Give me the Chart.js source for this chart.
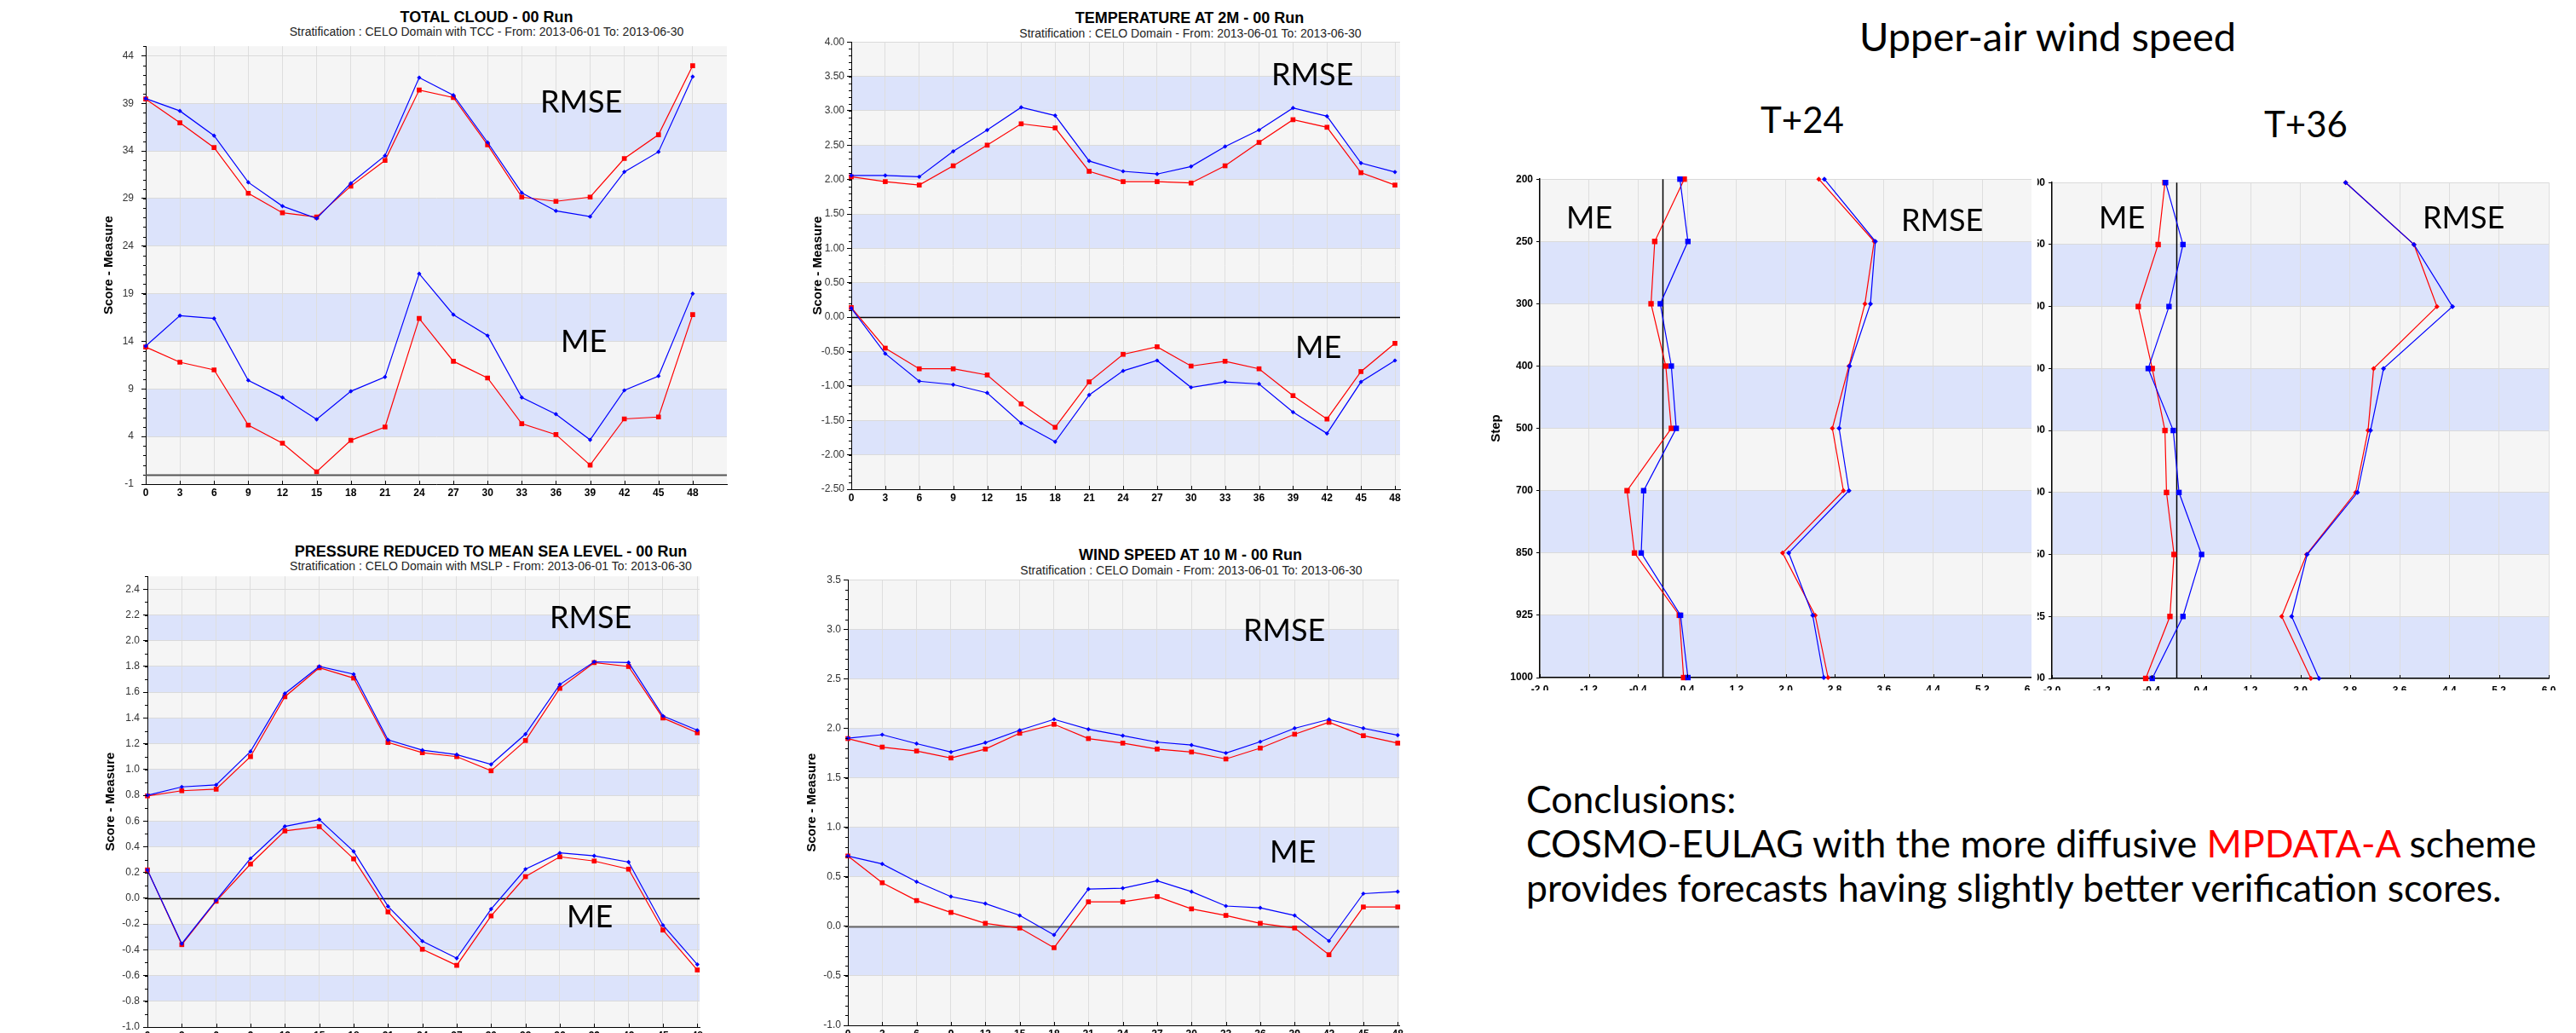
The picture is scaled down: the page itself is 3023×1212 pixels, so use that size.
<!DOCTYPE html>
<html>
<head>
<meta charset="utf-8">
<title>COSMO-EULAG verification scores</title>
<script src="https://cdn.jsdelivr.net/npm/chart.js@4.4.1/dist/chart.umd.min.js"></script>
<style>
    html, body { margin: 0; padding: 0; background: #fff; }
    body { width: 3023px; height: 1212px; position: relative; overflow: hidden; font-family: "Liberation Sans", Arial, sans-serif; }
    canvas { position: absolute; }
    .clip { position: absolute; overflow: hidden; }
    .ttl { position: absolute; transform: translateX(-50%); white-space: nowrap; font-weight: bold; font-size: 18px; line-height: 1; color: #000; }
    .sub { position: absolute; transform: translateX(-50%); white-space: nowrap; font-size: 14px; line-height: 1; color: #222; }
    .lbl { position: absolute; font-family: Lato, "Open Sans", sans-serif; font-size: 36px; line-height: 1; white-space: nowrap; color: #000; }
    .big { position: absolute; transform: translateX(-50%); font-family: Lato, "Open Sans", sans-serif; font-size: 42px; line-height: 1; white-space: nowrap; color: #000; }
    .concl { position: absolute; left: 1791px; top: 911px; font-family: Lato, "Open Sans", sans-serif; font-size: 44.5px; line-height: 52px; white-space: nowrap; color: #000; }
</style>
</head>
<body>

<div class="ttl" style="left:571px;top:11px">TOTAL CLOUD - 00 Run</div>
<div class="sub" style="left:571px;top:30px">Stratification : CELO Domain with TCC - From: 2013-06-01 To: 2013-06-30</div>
<div class="ttl" style="left:1396px;top:12px">TEMPERATURE AT 2M - 00 Run</div>
<div class="sub" style="left:1397px;top:32px">Stratification : CELO Domain - From: 2013-06-01 To: 2013-06-30</div>
<div class="ttl" style="left:576px;top:638px">PRESSURE REDUCED TO MEAN SEA LEVEL - 00 Run</div>
<div class="sub" style="left:576px;top:657px">Stratification : CELO Domain with MSLP - From: 2013-06-01 To: 2013-06-30</div>
<div class="ttl" style="left:1397px;top:642px">WIND SPEED AT 10 M - 00 Run</div>
<div class="sub" style="left:1398px;top:662px">Stratification : CELO Domain - From: 2013-06-01 To: 2013-06-30</div>

<canvas id="cloudChart"></canvas>
<canvas id="t2mChart"></canvas>
<canvas id="mslpChart"></canvas>
<canvas id="w10Chart"></canvas>
<div class="clip" style="left:2391px;top:208px;width:632px;height:602px"><canvas id="t36Chart"></canvas></div>
<div class="clip" style="left:1730px;top:205px;width:654px;height:605px"><canvas id="t24Chart"></canvas></div>

<div class="lbl" style="left:634px;top:100px">RMSE</div>
<div class="lbl" style="left:658px;top:381px">ME</div>
<div class="lbl" style="left:1492px;top:68px">RMSE</div>
<div class="lbl" style="left:1520px;top:388px">ME</div>
<div class="lbl" style="left:645px;top:705px">RMSE</div>
<div class="lbl" style="left:665px;top:1056px">ME</div>
<div class="lbl" style="left:1459px;top:720px">RMSE</div>
<div class="lbl" style="left:1490px;top:980px">ME</div>
<div class="lbl" style="left:1838px;top:236px">ME</div>
<div class="lbl" style="left:2231px;top:239px">RMSE</div>
<div class="lbl" style="left:2463px;top:236px">ME</div>
<div class="lbl" style="left:2843px;top:236px">RMSE</div>

<div class="big" style="left:2403px;top:19px;font-size:47px">Upper-air wind speed</div>
<div class="big" style="left:2115px;top:119px">T+24</div>
<div class="big" style="left:2706px;top:124px">T+36</div>

<div class="concl">Conclusions:<br>COSMO-EULAG with the more diffusive <span style="color:#ff0000">MPDATA-A</span> scheme<br>provides forecasts having slightly better verification scores.</div>

<script>
// Forecast lead times (hours) on the x axis of the surface charts
const leadHours = [0, 3, 6, 9, 12, 15, 18, 21, 24, 27, 30, 33, 36, 39, 42, 45, 48];

// Total cloud
const cloudRmseBlue = [39.5, 38.2, 35.6, 30.7, 28.2, 26.9, 30.6, 33.5, 41.7, 39.85, 34.9, 29.6, 27.7, 27.1, 31.8, 33.9, 41.8];
const cloudRmseRed = [39.45, 36.95, 34.35, 29.55, 27.5, 27.05, 30.3, 33.0, 40.4, 39.6, 34.65, 29.15, 28.7, 29.15, 33.2, 35.7, 42.95];
const cloudMeBlue = [13.5, 16.7, 16.4, 9.9, 8.1, 5.8, 8.75, 10.25, 21.1, 16.8, 14.6, 8.1, 6.35, 3.65, 8.85, 10.35, 19.0];
const cloudMeRed = [13.4, 11.8, 11.0, 5.2, 3.3, 0.3, 3.6, 5.0, 16.4, 11.9, 10.15, 5.35, 4.2, 1.0, 5.85, 6.05, 16.8];
const cloudTicks = [-1, 4, 9, 14, 19, 24, 29, 34, 39, 44];

// Temperature at 2 m
const t2mRmseBlue = [2.06, 2.06, 2.04, 2.41, 2.72, 3.05, 2.93, 2.27, 2.12, 2.08, 2.19, 2.48, 2.72, 3.04, 2.92, 2.24, 2.11];
const t2mRmseRed = [2.04, 1.97, 1.92, 2.20, 2.50, 2.81, 2.75, 2.12, 1.97, 1.97, 1.95, 2.20, 2.54, 2.87, 2.76, 2.10, 1.92];
const t2mMeBlue = [0.13, -0.53, -0.93, -0.98, -1.10, -1.54, -1.81, -1.13, -0.78, -0.63, -1.02, -0.94, -0.97, -1.38, -1.69, -0.94, -0.63];
const t2mMeRed = [0.14, -0.45, -0.75, -0.75, -0.84, -1.26, -1.60, -0.94, -0.54, -0.43, -0.71, -0.64, -0.75, -1.14, -1.48, -0.79, -0.38];
const t2mTicks = [-2.5, -2.0, -1.5, -1.0, -0.5, 0, 0.5, 1.0, 1.5, 2.0, 2.5, 3.0, 3.5, 4.0];

// Mean sea level pressure
const mslpRmseBlue = [0.80, 0.865, 0.88, 1.14, 1.59, 1.80, 1.74, 1.23, 1.15, 1.115, 1.04, 1.275, 1.66, 1.836, 1.83, 1.416, 1.305];
const mslpRmseRed = [0.795, 0.835, 0.847, 1.10, 1.565, 1.79, 1.71, 1.21, 1.13, 1.10, 0.99, 1.225, 1.63, 1.83, 1.80, 1.40, 1.285];
const mslpMeBlue = [0.22, -0.353, -0.016, 0.309, 0.558, 0.611, 0.364, -0.063, -0.333, -0.466, -0.084, 0.226, 0.352, 0.329, 0.281, -0.209, -0.514];
const mslpMeRed = [0.22, -0.36, -0.023, 0.266, 0.523, 0.556, 0.306, -0.106, -0.396, -0.521, -0.137, 0.168, 0.322, 0.289, 0.226, -0.247, -0.557];
const mslpTicks = [-1.0, -0.8, -0.6, -0.4, -0.2, 0, 0.2, 0.4, 0.6, 0.8, 1.0, 1.2, 1.4, 1.6, 1.8, 2.0, 2.2, 2.4];

// Wind speed at 10 m
const w10RmseBlue = [1.90, 1.935, 1.845, 1.76, 1.855, 1.98, 2.09, 1.99, 1.925, 1.86, 1.83, 1.75, 1.864, 2.0, 2.09, 2.0, 1.93];
const w10RmseRed = [1.896, 1.81, 1.77, 1.70, 1.79, 1.95, 2.04, 1.896, 1.85, 1.79, 1.76, 1.69, 1.80, 1.94, 2.06, 1.925, 1.85];
const w10MeBlue = [0.71, 0.63, 0.45, 0.30, 0.23, 0.11, -0.087, 0.376, 0.385, 0.46, 0.35, 0.205, 0.186, 0.11, -0.148, 0.33, 0.35];
const w10MeRed = [0.71, 0.44, 0.26, 0.14, 0.03, -0.017, -0.216, 0.247, 0.247, 0.30, 0.176, 0.11, 0.03, -0.017, -0.287, 0.195, 0.195];
const w10Ticks = [-1.0, -0.5, 0, 0.5, 1.0, 1.5, 2.0, 2.5, 3.0, 3.5];

// Upper-air wind speed profiles (pressure levels, hPa)
const levels = ["200", "250", "300", "400", "500", "700", "850", "925", "1000"];
const profileTicks = [-2.0, -1.2, -0.4, 0.4, 1.2, 2.0, 2.8, 3.6, 4.4, 5.2, 6.0];
const t24MeBlue = [0.28, 0.41, -0.04, 0.14, 0.22, -0.31, -0.35, 0.29, 0.41];
const t24MeRed = [0.35, -0.13, -0.19, 0.05, 0.14, -0.58, -0.46, 0.27, 0.34];
const t24RmseBlue = [2.63, 3.46, 3.38, 3.04, 2.87, 3.03, 2.05, 2.44, 2.62];
const t24RmseRed = [2.54, 3.44, 3.29, 3.03, 2.76, 2.94, 1.95, 2.48, 2.69];
const t36MeBlue = [-0.17, 0.11, -0.115, -0.45, -0.046, 0.046, 0.41, 0.11, -0.385];
const t36MeRed = [-0.18, -0.29, -0.61, -0.385, -0.18, -0.155, -0.034, -0.10, -0.49];
const t36RmseBlue = [2.73, 3.83, 4.45, 3.34, 3.13, 2.92, 2.11, 1.86, 2.30];
const t36RmseRed = [2.73, 3.83, 4.20, 3.18, 3.09, 2.89, 2.10, 1.70, 2.17];

const BLUE = "#0000ff";
const RED = "#ff0000";
const BAND = "rgb(220, 227, 251)";
const PLOT_BG = "#f5f5f5";
const PAD_TOP = 10;
const PAD_RIGHT = 16;

Chart.defaults.font.family = "'Liberation Sans', Arial, sans-serif";

// shaded bands, zero line and the small tick marks of the original plots
const decor = {
    id: "decor",
    beforeDraw(chart, args, o) {
        const { ctx, chartArea: a } = chart;
        const s = chart.scales.y;
        ctx.save();
        ctx.fillStyle = PLOT_BG;
        ctx.fillRect(a.left, a.top, a.right - a.left, a.bottom - a.top);
        ctx.fillStyle = BAND;
        for (let i = 1; i + 1 < s.ticks.length; i += 2) {
            const p1 = s.getPixelForTick(i);
            const p2 = s.getPixelForTick(i + 1);
            ctx.fillRect(a.left, Math.min(p1, p2), a.right - a.left, Math.abs(p2 - p1));
        }
        ctx.restore();
    },
    beforeDatasetsDraw(chart, args, o) {
        const { ctx, chartArea: a } = chart;
        const s = chart.scales[o.zeroAxis];
        const p = Math.round(s.getPixelForValue(0)) + 0.5;
        ctx.save();
        ctx.strokeStyle = o.zeroColor;
        ctx.lineWidth = o.zeroWidth;
        ctx.beginPath();
        if (o.zeroAxis === "y") {
            ctx.moveTo(a.left, p);
            ctx.lineTo(a.right, p);
        } else {
            ctx.moveTo(p, a.top);
            ctx.lineTo(p, a.bottom);
        }
        ctx.stroke();
        ctx.restore();
    },
    afterDraw(chart, args, o) {
        const { ctx, chartArea: a } = chart;
        const x = chart.scales.x;
        const y = chart.scales.y;
        ctx.save();
        ctx.strokeStyle = "#000";
        ctx.lineWidth = 1;
        ctx.beginPath();
        if (o.minorStep) {
            const n = Math.round((y.max - y.min) / o.minorStep);
            for (let k = 0; k <= n; k++) {
                const p = Math.round(y.getPixelForValue(y.min + k * o.minorStep)) + 0.5;
                ctx.moveTo(a.left - 3, p);
                ctx.lineTo(a.left, p);
            }
        }
        for (let i = 0; i < x.ticks.length; i++) {
            const p = Math.round(x.getPixelForTick(i)) + 0.5;
            ctx.moveTo(p, a.bottom);
            ctx.lineTo(p, a.bottom - 4);
        }
        ctx.stroke();
        ctx.restore();
    }
};

function setupCanvas(id, rect, yw, xh, origin) {
    const c = document.getElementById(id);
    c.width = rect.r - rect.l + yw + PAD_RIGHT;
    c.height = rect.b - rect.t + PAD_TOP + xh;
    c.style.left = (rect.l - yw - origin[0]) + "px";
    c.style.top = (rect.t - PAD_TOP - origin[1]) + "px";
    return c.getContext("2d");
}

function series(values, color, style, radius, xs) {
    return {
        data: xs ? xs.map((x, i) => ({ x: x, y: values[i] })) : values,
        borderColor: color,
        borderWidth: 1.2,
        pointStyle: style,
        pointRadius: radius,
        pointBackgroundColor: color,
        pointBorderColor: color,
        pointBorderWidth: 0,
        tension: 0,
        clip: 12
    };
}

const tickFont = { size: 12 };
const boldFont = { size: 12, weight: "bold" };

function scoreChart(id, rect, yw, s) {
    const ctx = setupCanvas(id, rect, yw, 22, [0, 0]);
    new Chart(ctx, {
        type: "line",
        data: {
            datasets: [
                series(s.rmseBlue, BLUE, "rectRot", 2.6, leadHours),
                series(s.meBlue, BLUE, "rectRot", 2.6, leadHours),
                series(s.rmseRed, RED, "rect", 4, leadHours),
                series(s.meRed, RED, "rect", 4, leadHours)
            ]
        },
        plugins: [decor],
        options: {
            responsive: false,
            animation: false,
            devicePixelRatio: 1,
            layout: { padding: { top: PAD_TOP, right: PAD_RIGHT, left: 0, bottom: 0 } },
            plugins: {
                legend: { display: false },
                tooltip: { enabled: false },
                decor: { zeroAxis: "y", zeroColor: s.zeroColor, zeroWidth: s.zeroWidth, minorStep: s.minorStep }
            },
            scales: {
                x: {
                    type: "linear",
                    min: 0,
                    max: s.xMax,
                    afterBuildTicks: (axis) => { axis.ticks = leadHours.map(v => ({ value: v })); },
                    afterFit: (axis) => { axis.height = 22; },
                    grid: { color: "#dedede", drawTicks: false },
                    border: { color: "#000" },
                    ticks: { autoSkip: false, maxRotation: 0, padding: 3, color: "#000", font: boldFont }
                },
                y: {
                    type: "linear",
                    min: s.yMin,
                    max: s.yMax,
                    afterBuildTicks: (axis) => { axis.ticks = s.ticks.map(v => ({ value: v })); },
                    afterFit: (axis) => { axis.width = yw; },
                    grid: { color: "#dadada", tickColor: "#000", tickLength: 5 },
                    border: { color: "#000" },
                    title: {
                        display: true,
                        text: "Score - Measure",
                        color: "#000",
                        font: { size: 15, weight: "bold" },
                        padding: { top: 0, bottom: 0 }
                    },
                    ticks: { autoSkip: false, padding: s.tickPad, color: "#333", font: tickFont, callback: s.fmt }
                }
            }
        }
    });
}

function profileChart(id, rect, origin, s) {
    const ctx = setupCanvas(id, rect, 60, 28, origin);
    new Chart(ctx, {
        type: "line",
        data: {
            labels: levels,
            datasets: [
                series(s.meBlue, BLUE, "rect", 4.5),
                series(s.rmseBlue, BLUE, "rectRot", 3),
                series(s.meRed, RED, "rect", 4.5),
                series(s.rmseRed, RED, "rectRot", 3)
            ]
        },
        plugins: [decor],
        options: {
            indexAxis: "y",
            responsive: false,
            animation: false,
            devicePixelRatio: 1,
            layout: { padding: { top: PAD_TOP, right: PAD_RIGHT, left: 0, bottom: 0 } },
            plugins: {
                legend: { display: false },
                tooltip: { enabled: false },
                decor: { zeroAxis: "x", zeroColor: "#000", zeroWidth: 1.5, minorStep: 0 }
            },
            scales: {
                x: {
                    type: "linear",
                    min: -2,
                    max: 6,
                    afterBuildTicks: (axis) => { axis.ticks = profileTicks.map(v => ({ value: v })); },
                    afterFit: (axis) => { axis.height = 28; },
                    grid: { color: "#dedede", drawTicks: false },
                    border: { color: "#000", width: 1.5 },
                    ticks: { autoSkip: false, maxRotation: 0, padding: 7, color: "#000", font: boldFont,
                             callback: (v) => Number(v).toFixed(1) }
                },
                y: {
                    type: "category",
                    offset: false,
                    afterFit: (axis) => { axis.width = 60; },
                    grid: { color: "#dadada", tickColor: "#000", tickLength: 4 },
                    border: { color: "#000", width: 1.5 },
                    title: {
                        display: true,
                        text: "Step",
                        color: "#000",
                        font: { size: 15, weight: "bold" },
                        padding: { top: 0, bottom: 0 }
                    },
                    ticks: { autoSkip: false, padding: 4, color: "#000", font: boldFont }
                }
            }
        }
    });
}

document.addEventListener("DOMContentLoaded", function () {
    scoreChart("cloudChart", { l: 171, t: 48, r: 853, b: 568 }, 52, {
        rmseBlue: cloudRmseBlue, rmseRed: cloudRmseRed, meBlue: cloudMeBlue, meRed: cloudMeRed,
        ticks: cloudTicks, yMin: -1, yMax: 45, xMax: 51, minorStep: 1, tickPad: 9,
        zeroColor: "#555", zeroWidth: 2, fmt: (v) => String(v)
    });
    scoreChart("t2mChart", { l: 999, t: 49, r: 1643, b: 574 }, 48, {
        rmseBlue: t2mRmseBlue, rmseRed: t2mRmseRed, meBlue: t2mMeBlue, meRed: t2mMeRed,
        ticks: t2mTicks, yMin: -2.5, yMax: 4.0, xMax: 48.45, minorStep: 0.1, tickPad: 3,
        zeroColor: "#000", zeroWidth: 1.5, fmt: (v) => Number(v).toFixed(2)
    });
    scoreChart("mslpChart", { l: 173, t: 675, r: 821, b: 1205 }, 52, {
        rmseBlue: mslpRmseBlue, rmseRed: mslpRmseRed, meBlue: mslpMeBlue, meRed: mslpMeRed,
        ticks: mslpTicks, yMin: -1.0, yMax: 2.5, xMax: 48.2, minorStep: 0.1, tickPad: 4,
        zeroColor: "#000", zeroWidth: 1.5, fmt: (v) => Number(v).toFixed(1)
    });
    scoreChart("w10Chart", { l: 995, t: 680, r: 1642, b: 1203 }, 51, {
        rmseBlue: w10RmseBlue, rmseRed: w10RmseRed, meBlue: w10MeBlue, meRed: w10MeRed,
        ticks: w10Ticks, yMin: -1.0, yMax: 3.5, xMax: 48.13, minorStep: 0.1, tickPad: 3,
        zeroColor: "#666", zeroWidth: 2, fmt: (v) => Number(v).toFixed(1)
    });
    profileChart("t24Chart", { l: 1807, t: 209, r: 2384, b: 795 }, [1730, 205], {
        meBlue: t24MeBlue, meRed: t24MeRed, rmseBlue: t24RmseBlue, rmseRed: t24RmseRed
    });
    profileChart("t36Chart", { l: 2408, t: 213, r: 2991, b: 796 }, [2391, 208], {
        meBlue: t36MeBlue, meRed: t36MeRed, rmseBlue: t36RmseBlue, rmseRed: t36RmseRed
    });
});
</script>
</body>
</html>
